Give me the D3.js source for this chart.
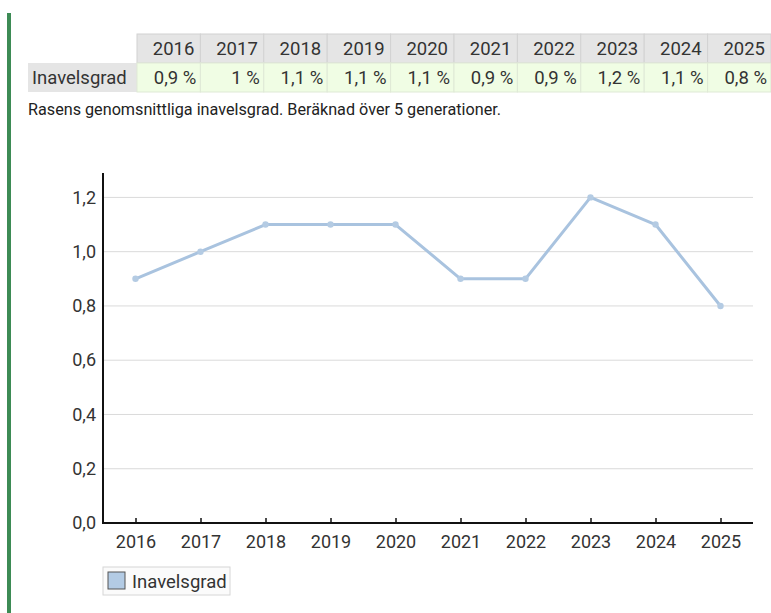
<!DOCTYPE html>
<html>
<head>
<meta charset="utf-8">
<script src="https://cdn.jsdelivr.net/npm/d3@7"></script>
<style>
  body { margin: 0; background: #fff; }
  svg { display: block; font-family: Roboto, "Noto Sans", sans-serif; }
</style>
</head>
<body>
<svg id="chart" width="771" height="613"></svg>
<script>
// data
const years = ["2016", "2017", "2018", "2019", "2020", "2021", "2022", "2023", "2024", "2025"];
const inavelsgrad = [0.9, 1.0, 1.1, 1.1, 1.1, 0.9, 0.9, 1.2, 1.1, 0.8];
const yTicks = [0, 0.2, 0.4, 0.6, 0.8, 1.0, 1.2];
const seriesName = "Inavelsgrad";
const caption = "Rasens genomsnittliga inavelsgrad. Beräknad över 5 generationer.";

const sv = d3.formatLocale({decimal: ",", thousands: " ", grouping: [3], currency: ["", " kr"]});
const fmtTick = sv.format(".1f");
const fmtCell = v => sv.format("~g")(v) + " %";

const svg = d3.select("#chart");

// green strip on the left
svg.append("rect")
    .attr("x", 7).attr("y", 13)
    .attr("width", 4).attr("height", 600)
    .attr("fill", "#3d8b55");

// table on top
const tableLeft = 28, labelW = 109, colW = 63.4;
const headTop = 34, rowH = 29;

const col = d3.scaleBand()
    .domain(years)
    .range([tableLeft + labelW, tableLeft + labelW + colW * years.length]);

const table = svg.append("g").attr("class", "table");

table.selectAll("rect.head")
    .data(years)
    .join("rect")
    .attr("class", "head")
    .attr("x", d => col(d)).attr("y", headTop)
    .attr("width", col.bandwidth()).attr("height", rowH)
    .attr("fill", "#e5e5e5")
    .attr("stroke", "#d2d2d2");

table.selectAll("text.head")
    .data(years)
    .join("text")
    .attr("class", "head")
    .attr("x", d => col(d) + col.bandwidth() - 6)
    .attr("y", headTop + rowH / 2)
    .attr("dy", "0.36em")
    .attr("text-anchor", "end")
    .attr("font-size", 18.5)
    .attr("fill", "#333")
    .text(d => d);

table.append("rect")
    .attr("x", tableLeft).attr("y", headTop + rowH)
    .attr("width", labelW).attr("height", rowH)
    .attr("fill", "#e5e5e5");

table.append("text")
    .attr("x", tableLeft + 4)
    .attr("y", headTop + rowH * 1.5)
    .attr("dy", "0.36em")
    .attr("font-size", 18.5)
    .attr("fill", "#333")
    .text(seriesName);

table.selectAll("rect.cell")
    .data(inavelsgrad)
    .join("rect")
    .attr("class", "cell")
    .attr("x", (d, i) => col(years[i])).attr("y", headTop + rowH)
    .attr("width", col.bandwidth()).attr("height", rowH)
    .attr("fill", "#f0fde4")
    .attr("stroke", "#dfe9d6");

table.selectAll("text.cell")
    .data(inavelsgrad)
    .join("text")
    .attr("class", "cell")
    .attr("x", (d, i) => col(years[i]) + col.bandwidth() - 4)
    .attr("y", headTop + rowH * 1.5)
    .attr("dy", "0.36em")
    .attr("text-anchor", "end")
    .attr("font-size", 18.5)
    .attr("fill", "#333")
    .text(d => fmtCell(d));

svg.append("text")
    .attr("x", tableLeft)
    .attr("y", 115)
    .attr("font-size", 16.2)
    .attr("fill", "#222")
    .text(caption);

// line chart
const margin = {top: 173, right: 18, bottom: 90, left: 103};
const width = 771 - margin.left - margin.right,
      height = 613 - margin.top - margin.bottom;

const g = svg.append("g")
    .attr("transform", `translate(${margin.left},${margin.top})`);

const x = d3.scalePoint()
    .domain(years)
    .range([0, width])
    .padding(0.5);

const y = d3.scaleLinear()
    .domain([0, 1.29])
    .range([height, 0]);

// grid lines
g.append("g")
    .selectAll("line")
    .data(yTicks.filter(t => t > 0))
    .join("line")
    .attr("x1", 0).attr("x2", width)
    .attr("y1", d => y(d)).attr("y2", d => y(d))
    .attr("stroke", "#dadada")
    .attr("stroke-width", 1);

// y axis
const yAxis = g.append("g")
    .call(d3.axisLeft(y).tickValues(yTicks).tickFormat(fmtTick).tickSize(0).tickPadding(7));
yAxis.select(".domain").attr("stroke", "#111").attr("stroke-width", 2)
    .attr("d", `M0,0V${height}`);
yAxis.selectAll("text").attr("font-size", 18).attr("fill", "#333")
    .attr("font-family", "Roboto, sans-serif");

// x axis
const xAxis = g.append("g")
    .attr("transform", `translate(0,${height})`)
    .call(d3.axisBottom(x).tickSizeInner(-5).tickSizeOuter(0).tickPadding(12));
xAxis.select(".domain").attr("stroke", "#111").attr("stroke-width", 2)
    .attr("d", `M-1,0H${width}`);
xAxis.selectAll(".tick line").attr("stroke", "#111").attr("stroke-width", 1.5);
xAxis.selectAll("text").attr("font-size", 18).attr("fill", "#333")
    .attr("font-family", "Roboto, sans-serif");

// the series
const lineColor = "#a9c3df";
g.append("path")
    .datum(inavelsgrad)
    .attr("fill", "none")
    .attr("stroke", lineColor)
    .attr("stroke-width", 3)
    .attr("stroke-linejoin", "round")
    .attr("d", d3.line()
        .x((d, i) => x(years[i]))
        .y(d => y(d)));

g.selectAll("circle")
    .data(inavelsgrad)
    .join("circle")
    .attr("cx", (d, i) => x(years[i]))
    .attr("cy", d => y(d))
    .attr("r", 3.2)
    .attr("fill", "#b4cbe3");

// legend
const legend = svg.append("g").attr("transform", "translate(103,567)");
legend.append("rect")
    .attr("width", 127).attr("height", 28)
    .attr("fill", "#fbfbfb")
    .attr("stroke", "#d6d6d6");
legend.append("rect")
    .attr("x", 5).attr("y", 5)
    .attr("width", 17).attr("height", 17)
    .attr("fill", "#b3cbe4")
    .attr("stroke", "#555");
legend.append("text")
    .attr("x", 29).attr("y", 14)
    .attr("dy", "0.36em")
    .attr("font-size", 18.5)
    .attr("fill", "#333")
    .text(seriesName);
</script>
</body>
</html>
